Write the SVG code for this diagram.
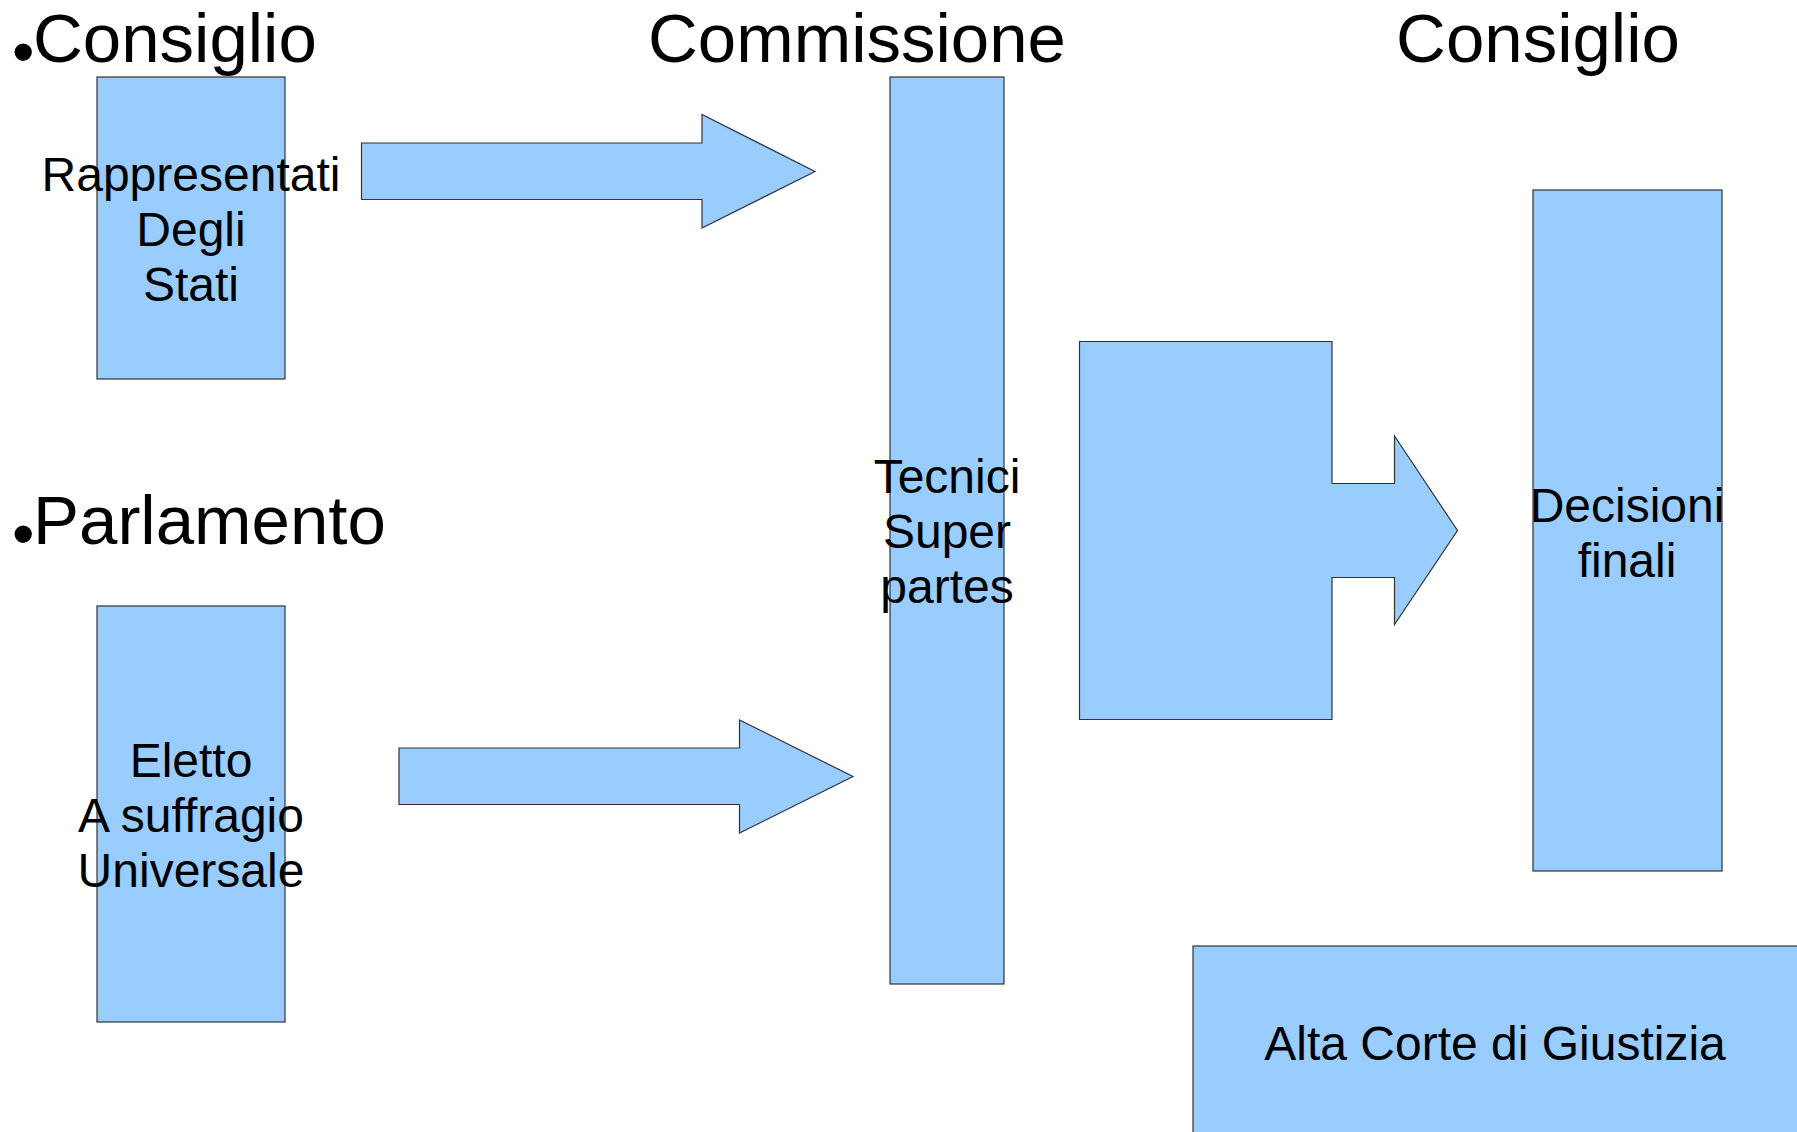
<svg xmlns="http://www.w3.org/2000/svg" width="1797" height="1132" viewBox="0 0 1797 1132">
<style>
.shape{fill:#99ccff;stroke:#333333;stroke-width:1.2}
.t{font-family:"Liberation Sans",Arial,sans-serif;fill:#000}
.title{font-size:69px}
.lbl{font-size:48px;text-anchor:middle}
.bul{font-size:64px}
</style>
<rect width="1797" height="1132" fill="#ffffff"/>
<g id="title-consiglio-left">
<text class="t title" x="12" y="62"><tspan class="bul" x="12" y="74">•</tspan><tspan x="33" y="62">Consiglio</tspan></text>
</g>
<g id="title-commissione">
<text class="t title" x="857" y="62" text-anchor="middle">Commissione</text>
</g>
<g id="title-consiglio-right">
<text class="t title" x="1538" y="62" text-anchor="middle">Consiglio</text>
</g>
<g id="title-parlamento">
<text class="t title" x="12" y="544"><tspan class="bul" x="12" y="556">•</tspan><tspan x="33" y="544">Parlamento</tspan></text>
</g>
<g id="node-rappresentati">
<rect class="shape" x="97" y="77" width="188" height="302"/>
<text class="t lbl" x="191" y="191">Rappresentati</text>
<text class="t lbl" x="191" y="246">Degli</text>
<text class="t lbl" x="191" y="301">Stati</text>
</g>
<g id="node-eletto">
<rect class="shape" x="97" y="606" width="188" height="416"/>
<text class="t lbl" x="191" y="777">Eletto</text>
<text class="t lbl" x="191" y="832">A suffragio</text>
<text class="t lbl" x="191" y="887">Universale</text>
</g>
<g id="node-tecnici">
<rect class="shape" x="890" y="77" width="114" height="907"/>
<text class="t lbl" x="947" y="493">Tecnici</text>
<text class="t lbl" x="947" y="548">Super</text>
<text class="t lbl" x="947" y="603">partes</text>
</g>
<g id="node-decisioni">
<rect class="shape" x="1533" y="190" width="189" height="681"/>
<text class="t lbl" x="1627" y="522">Decisioni</text>
<text class="t lbl" x="1627" y="577">finali</text>
</g>
<g id="node-alta-corte">
<rect class="shape" x="1193" y="946" width="640" height="220"/>
<text class="t lbl" x="1495" y="1060">Alta Corte di Giustizia</text>
</g>
<g id="connectors">
<polygon class="shape" points="361.5,143 702,143 702,114.5 815,171.5 702,228 702,199.5 361.5,199.5"/>
<polygon class="shape" points="399,748 739.5,748 739.5,720 853,776.5 739.5,833 739.5,804.5 399,804.5"/>
<polygon class="shape" points="1079.5,341.5 1332,341.5 1332,483.5 1394.5,483.5 1394.5,436 1457.5,530.5 1394.5,624.5 1394.5,577.5 1332,577.5 1332,719.5 1079.5,719.5"/>
</g>
</svg>
